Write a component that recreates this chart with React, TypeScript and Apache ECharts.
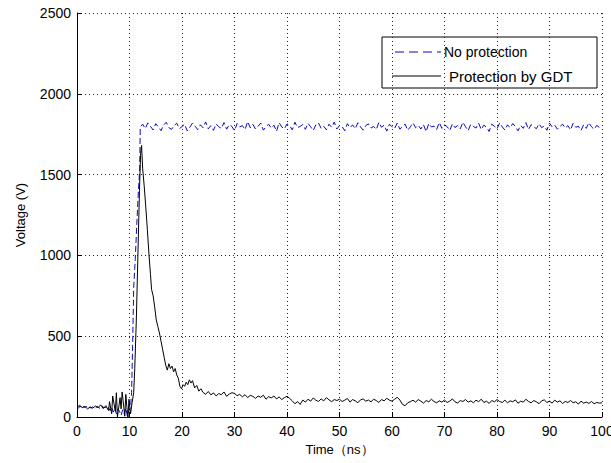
import React, { useEffect, useRef } from "react";
import * as echarts from "echarts";

const xTicks = { min: 0, max: 100, interval: 10 };
const yTicks = { min: 0, max: 2500, interval: 500 };

// No protection: rising edge section [time ns, voltage V]
const noProtHead: [number, number][] = [
  [0, 62], [0.3, 55], [0.6, 68], [0.9, 52], [1.2, 64], [1.5, 58], [1.8, 66], [2.1, 50], [2.4, 60], [2.7, 55],
  [3, 63], [3.3, 52], [3.6, 58], [3.9, 66], [4.2, 54], [4.5, 60], [4.8, 70], [5.1, 56], [5.4, 62], [5.7, 48],
  [6, 58], [6.3, 40], [6.6, 62], [6.9, 30], [7.2, 55], [7.5, 20], [7.8, 50], [8.1, 35], [8.4, 10], [8.7, 45],
  [9, 20], [9.3, 55], [9.6, 5], [9.9, 40], [10.2, 60], [10.4, 150], [10.6, 450], [10.8, 800], [11.1, 980],
  [11.4, 1200], [11.7, 1400], [11.95, 1540], [12.05, 1795],
];
// No protection: plateau, sampled every 0.5 ns from 12.5 ns to 100 ns
const noProtTailStart = 12.5;
const noProtTailStep = 0.5;
const noProtTail = [
  1812, 1785, 1820, 1798, 1776, 1815, 1795, 1772, 1806, 1824, 1790, 1780, 1803, 1818, 1784, 1797, 1812, 1770, 1794, 1819,
  1799, 1778, 1808, 1790, 1826, 1783, 1803, 1774, 1814, 1796, 1786, 1822, 1781, 1809, 1798, 1772, 1816, 1795, 1803, 1779,
  1828, 1790, 1811, 1782, 1799, 1819, 1775, 1797, 1812, 1788, 1806, 1768, 1821, 1795, 1783, 1814, 1802, 1777, 1824, 1791,
  1798, 1810, 1780, 1817, 1796, 1773, 1808, 1820, 1786, 1799, 1777, 1812, 1793, 1825, 1782, 1804, 1797, 1771, 1815, 1790,
  1808, 1784, 1821, 1795, 1775, 1803, 1814, 1788, 1798, 1779, 1823, 1793, 1806, 1769, 1811, 1797, 1786, 1819, 1781, 1799,
  1812, 1774, 1796, 1820, 1790, 1804, 1782, 1809, 1766, 1816, 1795, 1800, 1778, 1822, 1786, 1808, 1797, 1773, 1814, 1791,
  1803, 1783, 1824, 1796, 1772, 1811, 1798, 1788, 1818, 1779, 1806, 1793, 1767, 1812, 1799, 1782, 1820, 1795, 1776, 1808,
  1790, 1816, 1797, 1771, 1804, 1786, 1822, 1779, 1809, 1796, 1784, 1814, 1791, 1800, 1774, 1819, 1795, 1806, 1781, 1798,
  1812, 1788, 1803, 1777, 1817, 1793, 1799, 1773, 1808, 1786, 1821, 1796, 1780, 1804, 1792, 1783,
];

// Protection by GDT: pulse section [time ns, voltage V]
const gdtHead: [number, number][] = [
  [0, 60], [0.5, 72], [1, 58], [1.5, 66], [2, 50], [2.5, 62], [3, 55], [3.5, 68], [4, 58], [4.5, 75],
  [5, 52], [5.5, 70], [6, 40], [6.2, 95], [6.6, 20], [6.8, 130], [7.3, 35], [7.5, 150], [7.7, 0], [8.2, 120],
  [8.4, 50], [8.6, 155], [9.1, 5], [9.3, 140], [9.5, 60], [9.7, 0], [9.9, 110], [10.2, 20], [10.5, 90], [10.8, 150], [11, 300],
  [11.3, 600], [11.6, 1000], [11.9, 1400], [12.1, 1620], [12.3, 1680], [12.5, 1540], [12.8, 1430], [13.1, 1300],
  [13.4, 1160], [13.7, 1010], [14, 880], [14.2, 790], [14.5, 750], [14.8, 680], [15.1, 600], [15.4, 560],
  [15.7, 520], [16, 470], [16.3, 420], [16.6, 370], [16.9, 320], [17.2, 290], [17.5, 330], [17.8, 300],
  [18.1, 315], [18.4, 280], [18.7, 300], [19, 260], [19.3, 240], [19.6, 190], [19.9, 175], [20.2, 200],
  [20.5, 190], [20.8, 215], [21.1, 200], [21.4, 230], [21.7, 210], [22, 225], [22.4, 180], [22.8, 195],
  [23.2, 160], [23.6, 175],
];
// Protection by GDT: tail, sampled every 0.5 ns from 24 ns to 100 ns
const gdtTailStart = 24;
const gdtTailStep = 0.5;
const gdtTail = [
  152, 140, 158, 137, 149, 130, 145, 138, 155, 128, 142, 150,
  146, 132, 140, 125, 138, 120, 134, 128, 115, 130, 122, 135, 110, 126, 118, 130, 112, 124, 108, 120,
  128, 115, 100, 82, 95, 78, 105, 92, 110, 98, 118, 104, 96, 112, 100, 120, 106, 95, 108, 102,
  110, 96, 104, 115, 92, 108, 100, 88, 106, 112, 98, 105, 94, 110, 102, 90, 108, 100, 116, 104,
  98, 110, 122, 105, 78, 70, 88, 95, 104, 92, 108, 98, 86, 102, 94, 110, 96, 88, 100, 92,
  105, 90, 98, 112, 94, 86, 102, 96, 108, 92, 100, 88, 104, 95, 110, 90, 98, 84, 102, 94,
  108, 96, 90, 104, 88, 100, 94, 106, 85, 98, 92, 110, 96, 88, 102, 94, 82, 100, 106, 90,
  98, 86, 104, 92, 100, 84, 96, 90, 102, 88, 94, 80, 98, 86, 92, 84, 96, 82, 90, 86,
  88,
];

const seriesNames = ["No protection", "Protection by GDT"];
const xName = "Time（ns）";
const yName = "Voltage (V)";

const withTail = (head: [number, number][], start: number, step: number, tail: number[]) =>
  head.concat(tail.map((v, i) => [start + i * step, v] as [number, number]));

const FONT = "'Liberation Sans', Arial, sans-serif";

export default function App() {
  const ref = useRef<HTMLDivElement>(null);
  useEffect(() => {
    if (!ref.current) return;
    const chart = echarts.init(ref.current, undefined, { renderer: "svg" });
    const axisCommon = {
      axisLine: { show: true, lineStyle: { color: "#000", width: 1 } },
      axisTick: { show: true, inside: true, length: 5, lineStyle: { color: "#000" } },
      axisLabel: { color: "#000", fontSize: 14, fontFamily: FONT, formatter: (v: number) => String(v) },
      splitLine: { show: true, lineStyle: { color: "#222", type: [1, 3], width: 1 } },
      nameTextStyle: { color: "#000", fontSize: 13, fontFamily: FONT },
    };
    chart.setOption({
      animation: false,
      backgroundColor: "#fff",
      grid: { left: 77, top: 13, right: 9, bottom: 46, containLabel: false, outerBoundsMode: "none" },
      xAxis: {
        type: "value",
        ...xTicks,
        name: xName,
        nameLocation: "middle",
        nameGap: 25,
        ...axisCommon,
        axisLabel: { ...axisCommon.axisLabel, margin: 7 },
      },
      yAxis: {
        type: "value",
        ...yTicks,
        name: yName,
        nameLocation: "middle",
        nameGap: 50,
        ...axisCommon,
        axisLabel: { ...axisCommon.axisLabel, margin: 6 },
      },
      series: [
        {
          name: seriesNames[0],
          type: "line",
          data: withTail(noProtHead, noProtTailStart, noProtTailStep, noProtTail),
          showSymbol: false,
          lineStyle: { color: "#0a0ac0", width: 1, type: [6, 3] },
          z: 2,
        },
        {
          name: seriesNames[1],
          type: "line",
          data: withTail(gdtHead, gdtTailStart, gdtTailStep, gdtTail),
          showSymbol: false,
          lineStyle: { color: "#000", width: 1 },
          z: 3,
        },
      ],
      graphic: [
        {
          type: "group",
          z: 100,
          children: [
            { type: "rect", shape: { x: 382, y: 37, width: 215, height: 51 }, style: { fill: "#fff", stroke: "#000", lineWidth: 1 } },
            { type: "line", shape: { x1: 395, y1: 52, x2: 441, y2: 52 }, style: { stroke: "#0a0ac0", lineWidth: 1, lineDash: [9, 5] } },
            { type: "text", x: 444, y: 52, style: { text: seriesNames[0], fill: "#000", fontSize: 14, fontFamily: FONT, verticalAlign: "middle" } },
            { type: "line", shape: { x1: 392, y1: 76, x2: 441, y2: 76 }, style: { stroke: "#000", lineWidth: 1 } },
            { type: "text", x: 449, y: 76, style: { text: seriesNames[1], fill: "#000", fontSize: 15, fontFamily: FONT, verticalAlign: "middle" } },
          ],
        },
      ],
    });
    return () => chart.dispose();
  }, []);
  return <div ref={ref} style={{ position: "fixed", left: 0, top: 0, width: 611, height: 463 }} />;
}
